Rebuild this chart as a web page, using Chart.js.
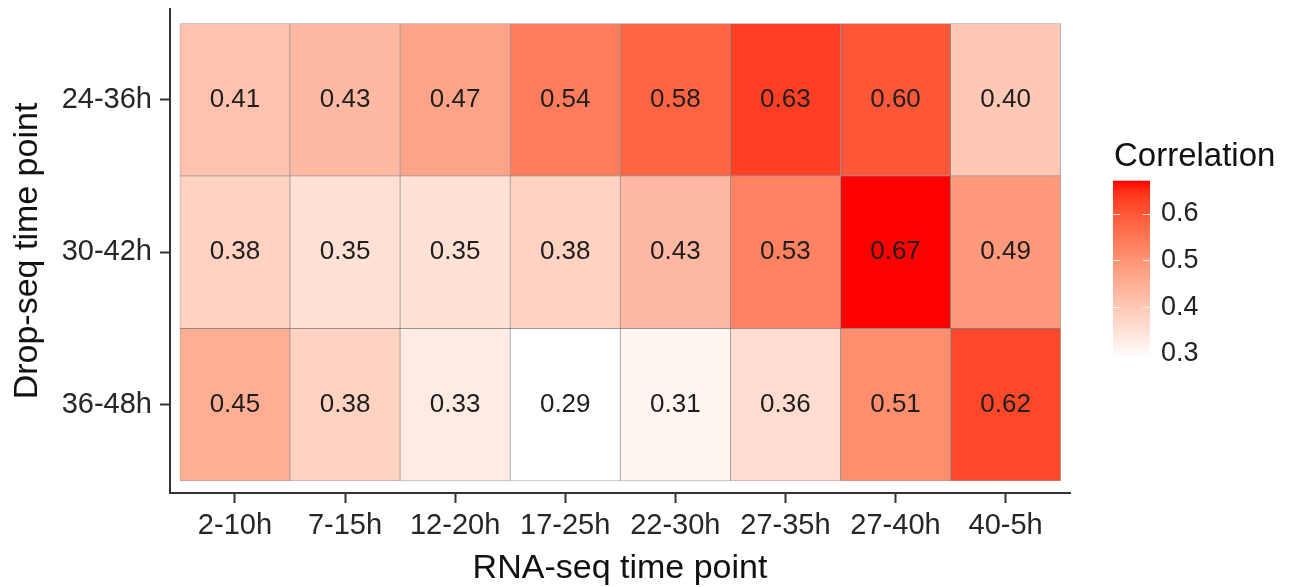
<!DOCTYPE html>
<html>
<head>
<meta charset="utf-8">
<script src="https://cdn.jsdelivr.net/npm/chart.js@4.4.1/dist/chart.umd.min.js"></script>
<style>
  html, body { margin: 0; padding: 0; background: #fff; }
  canvas { display: block; }
</style>
</head>
<body>
<canvas id="myChart" width="1297" height="587"></canvas>
<script>
// columns (RNA-seq) and rows (Drop-seq), rows listed top to bottom
var cols = ['2-10h', '7-15h', '12-20h', '17-25h', '22-30h', '27-35h', '27-40h', '40-5h'];
var rows = ['24-36h', '30-42h', '36-48h'];

var row24_36 = [0.41, 0.43, 0.47, 0.54, 0.58, 0.63, 0.60, 0.40];
var row30_42 = [0.38, 0.35, 0.35, 0.38, 0.43, 0.53, 0.67, 0.49];
var row36_48 = [0.45, 0.38, 0.33, 0.29, 0.31, 0.36, 0.51, 0.62];

var legendTicks = [0.3, 0.4, 0.5, 0.6];

var rowValues = [row24_36, row30_42, row36_48];
var allValues = row24_36.concat(row30_42, row36_48);
var vMin = Math.min.apply(null, allValues);
var vMax = Math.max.apply(null, allValues);

// white -> red ramp interpolated in CIELAB (like ggplot's gradient)
var labLow = [100, 0, 0];
var labHigh = [53.24, 80.09, 67.20];

function lab2rgb(L, a, b) {
    var fy = (L + 16) / 116, fx = fy + a / 500, fz = fy - b / 200;
    function finv(t) { var t3 = t * t * t; return t3 > 0.008856 ? t3 : (t - 16 / 116) / 7.787; }
    var X = 0.95047 * finv(fx), Y = finv(fy), Z = 1.08883 * finv(fz);
    var r = 3.2406 * X - 1.5372 * Y - 0.4986 * Z;
    var g = -0.9689 * X + 1.8758 * Y + 0.0415 * Z;
    var bl = 0.0557 * X - 0.2040 * Y + 1.0570 * Z;
    function gam(c) {
        c = c <= 0.0031308 ? 12.92 * c : 1.055 * Math.pow(c, 1 / 2.4) - 0.055;
        return Math.round(Math.max(0, Math.min(1, c)) * 255);
    }
    return 'rgb(' + gam(r) + ',' + gam(g) + ',' + gam(bl) + ')';
}

function fillFor(v) {
    var t = (v - vMin) / (vMax - vMin);
    t = Math.max(0, Math.min(1, t));
    return lab2rgb(
        labLow[0] + (labHigh[0] - labLow[0]) * t,
        labLow[1] + (labHigh[1] - labLow[1]) * t,
        labLow[2] + (labHigh[2] - labLow[2]) * t
    );
}

var datasets = rows.map(function (name, r) {
    var base = rows.length - 1 - r;
    return {
        label: name,
        data: rowValues[r].map(function (v, i) { return { x: i + 0.5, y: [base, base + 1] }; }),
        values: rowValues[r],
        backgroundColor: rowValues[r].map(fillFor),
        borderColor: 'rgba(70,70,70,0.5)',
        borderWidth: 0.75,
        borderSkipped: false,
        grouped: false,
        barPercentage: 1,
        categoryPercentage: 1
    };
});

var FONT = "'Liberation Sans', Arial, Helvetica, sans-serif";
Chart.defaults.font.family = FONT;

// cell values + colourbar legend
var heatPlugin = {
    id: 'heatLabels',
    afterDatasetsDraw: function (chart) {
        var ctx = chart.ctx;
        ctx.save();
        ctx.font = '26px ' + FONT;
        ctx.fillStyle = '#1e1e1e';
        ctx.textAlign = 'center';
        ctx.textBaseline = 'middle';
        chart.data.datasets.forEach(function (ds, di) {
            chart.getDatasetMeta(di).data.forEach(function (bar, i) {
                ctx.fillText(ds.values[i].toFixed(2), bar.x, (bar.y + bar.base) / 2);
            });
        });
        ctx.restore();
    },
    afterDraw: function (chart) {
        var ctx = chart.ctx;
        var barLeft = 1113, barW = 37;
        function yOf(v) { return 213.5 + (0.6 - v) * 468; }
        var yTop = yOf(vMax), yBot = yOf(vMin);
        ctx.save();
        var grad = ctx.createLinearGradient(0, yBot, 0, yTop);
        for (var k = 0; k <= 20; k++) {
            grad.addColorStop(k / 20, fillFor(vMin + (vMax - vMin) * k / 20));
        }
        ctx.fillStyle = grad;
        ctx.fillRect(barLeft, yTop, barW, yBot - yTop);

        ctx.strokeStyle = 'rgba(255,255,255,0.8)';
        ctx.lineWidth = 1;
        legendTicks.forEach(function (t) {
            var y = Math.round(yOf(t)) + 0.5;
            ctx.beginPath();
            ctx.moveTo(barLeft, y); ctx.lineTo(barLeft + 7, y);
            ctx.moveTo(barLeft + barW - 7, y); ctx.lineTo(barLeft + barW, y);
            ctx.stroke();
        });

        ctx.fillStyle = '#222';
        ctx.textAlign = 'left';
        ctx.textBaseline = 'middle';
        ctx.font = '27px ' + FONT;
        legendTicks.forEach(function (t) {
            ctx.fillText(t.toFixed(1), 1161, yOf(t));
        });
        ctx.fillStyle = '#111';
        ctx.font = '33px ' + FONT;
        ctx.fillText('Correlation', 1114, 157);
        ctx.restore();
    }
};

var ctx = document.getElementById('myChart').getContext('2d');
var myChart = new Chart(ctx, {
    type: 'bar',
    data: { datasets: datasets },
    options: {
        responsive: false,
        maintainAspectRatio: false,
        animation: false,
        layout: { padding: { top: 9, right: 227, left: 0, bottom: 0 } },
        plugins: {
            legend: { display: false },
            tooltip: { enabled: false }
        },
        scales: {
            x: {
                type: 'linear',
                offset: false,
                min: -0.09,
                max: 8.085,
                afterBuildTicks: function (scale) {
                    scale.ticks = cols.map(function (c, i) { return { value: i + 0.5 }; });
                },
                afterFit: function (scale) {
                    scale.height = 94;
                    scale.paddingLeft = 0;
                    scale.paddingRight = 0;
                },
                ticks: {
                    autoSkip: false,
                    maxRotation: 0,
                    padding: 6,
                    color: '#262626',
                    font: { size: 29 },
                    callback: function (v) { return cols[Math.floor(v)]; }
                },
                grid: { offset: false, drawOnChartArea: false, tickLength: 10, tickColor: '#333', tickWidth: 2 },
                border: { color: '#333', width: 2 },
                title: {
                    display: true,
                    text: 'RNA-seq time point',
                    color: '#111',
                    font: { size: 34 },
                    padding: { top: 0, bottom: -2 }
                }
            },
            y: {
                type: 'linear',
                min: -0.08,
                max: 3.095,
                afterBuildTicks: function (scale) {
                    scale.ticks = rows.map(function (r, i) { return { value: i + 0.5 }; });
                },
                afterFit: function (scale) {
                    scale.width = 170;
                    scale.paddingTop = 0;
                    scale.paddingBottom = 0;
                },
                ticks: {
                    padding: 8,
                    color: '#262626',
                    font: { size: 29 },
                    callback: function (v) { return rows[rows.length - 1 - Math.floor(v)]; }
                },
                grid: { drawOnChartArea: false, tickLength: 10, tickColor: '#333', tickWidth: 2 },
                border: { color: '#333', width: 2 },
                title: {
                    display: true,
                    text: 'Drop-seq time point',
                    color: '#111',
                    font: { size: 34 },
                    padding: { top: 7, bottom: 0 }
                }
            }
        }
    },
    plugins: [heatPlugin]
});
</script>
</body>
</html>
